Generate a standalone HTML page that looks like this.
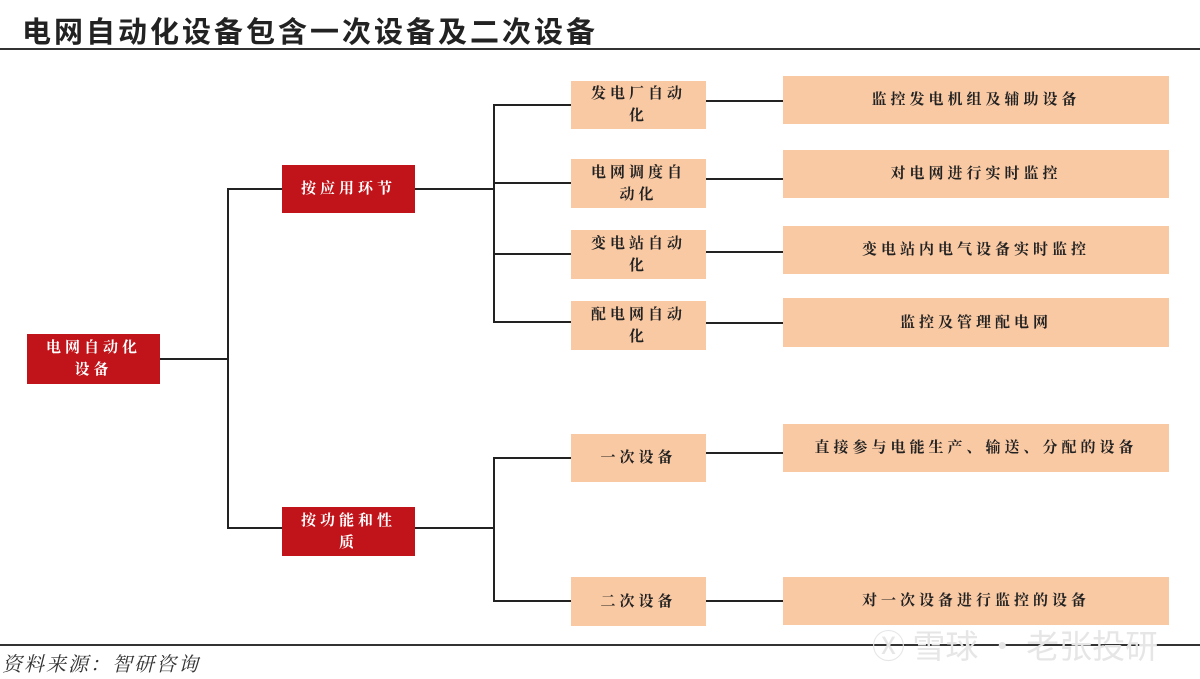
<!DOCTYPE html>
<html><head><meta charset="utf-8"><style>
body{margin:0;width:1200px;height:679px;background:#fff;position:relative;overflow:hidden;font-family:"Liberation Sans","Noto Serif CJK SC","Noto Sans CJK SC",serif;}
.t{position:absolute;left:22px;top:9px;font-size:29px;letter-spacing:3px;color:#222;font-weight:bold;font-family:"Liberation Sans","Noto Sans CJK SC",sans-serif;}
.hl{position:absolute;left:0;width:1200px;height:2px;background:#333;}
.b{position:absolute;display:flex;align-items:center;justify-content:center;text-align:center;font-size:15px;line-height:22px;letter-spacing:4px;font-weight:bold;color:#222;}
.r{background:#c0141a;color:#fff;}
.p{background:#f9c9a4;}
.l{position:absolute;background:#222;}
.src{position:absolute;left:2px;top:648px;font-size:20px;font-style:italic;color:#333;letter-spacing:2px;}
.wm{position:absolute;left:872px;top:620px;font-size:33px;color:#e6e6e6;font-family:"Noto Sans CJK SC",sans-serif;}
</style></head><body>
<div class="t">电网自动化设备包含一次设备及二次设备</div>
<div class="hl" style="top:48px"></div>
<div class="hl" style="top:644px"></div>

<div class="b r" style="left:27px;top:334px;width:133px;height:50px">电网自动化<br>设备</div>
<div class="b r" style="left:282px;top:165px;width:133px;height:48px">按应用环节</div>
<div class="b r" style="left:282px;top:507px;width:133px;height:49px">按功能和性<br>质</div>

<div class="l" style="left:160px;top:358px;width:68px;height:2px"></div>
<div class="l" style="left:227px;top:189px;width:2px;height:340px"></div>
<div class="l" style="left:227px;top:188px;width:55px;height:2px"></div>
<div class="l" style="left:227px;top:527px;width:55px;height:2px"></div>
<div class="l" style="left:415px;top:188px;width:79px;height:2px"></div>
<div class="l" style="left:415px;top:527px;width:79px;height:2px"></div>
<div class="l" style="left:493px;top:104px;width:2px;height:219px"></div>
<div class="l" style="left:493px;top:457px;width:2px;height:145px"></div>

<div class="l" style="left:493px;top:104px;width:78px;height:2px"></div>
<div class="l" style="left:493px;top:182px;width:78px;height:2px"></div>
<div class="l" style="left:493px;top:253px;width:78px;height:2px"></div>
<div class="l" style="left:493px;top:321px;width:78px;height:2px"></div>
<div class="l" style="left:493px;top:457px;width:78px;height:2px"></div>
<div class="l" style="left:493px;top:600px;width:78px;height:2px"></div>

<div class="l" style="left:706px;top:100px;width:77px;height:2px"></div>
<div class="l" style="left:706px;top:178px;width:77px;height:2px"></div>
<div class="l" style="left:706px;top:251px;width:77px;height:2px"></div>
<div class="l" style="left:706px;top:322px;width:77px;height:2px"></div>
<div class="l" style="left:706px;top:452px;width:77px;height:2px"></div>
<div class="l" style="left:706px;top:600px;width:77px;height:2px"></div>

<div class="b p" style="left:571px;top:81px;width:135px;height:48px">发电厂自动<br>化</div>
<div class="b p" style="left:571px;top:159px;width:135px;height:49px">电网调度自<br>动化</div>
<div class="b p" style="left:571px;top:230px;width:135px;height:49px">变电站自动<br>化</div>
<div class="b p" style="left:571px;top:301px;width:135px;height:49px">配电网自动<br>化</div>
<div class="b p" style="left:571px;top:434px;width:135px;height:48px">一次设备</div>
<div class="b p" style="left:571px;top:577px;width:135px;height:49px">二次设备</div>

<div class="b p" style="left:783px;top:76px;width:386px;height:48px">监控发电机组及辅助设备</div>
<div class="b p" style="left:783px;top:150px;width:386px;height:48px">对电网进行实时监控</div>
<div class="b p" style="left:783px;top:226px;width:386px;height:48px">变电站内电气设备实时监控</div>
<div class="b p" style="left:783px;top:298px;width:386px;height:49px">监控及管理配电网</div>
<div class="b p" style="left:783px;top:424px;width:386px;height:48px">直接参与电能生产、输送、分配的设备</div>
<div class="b p" style="left:783px;top:577px;width:386px;height:48px">对一次设备进行监控的设备</div>

<div class="wm">Ⓧ 雪球 · 老张投研</div>
<div class="src">资料来源：智研咨询</div>
</body></html>
